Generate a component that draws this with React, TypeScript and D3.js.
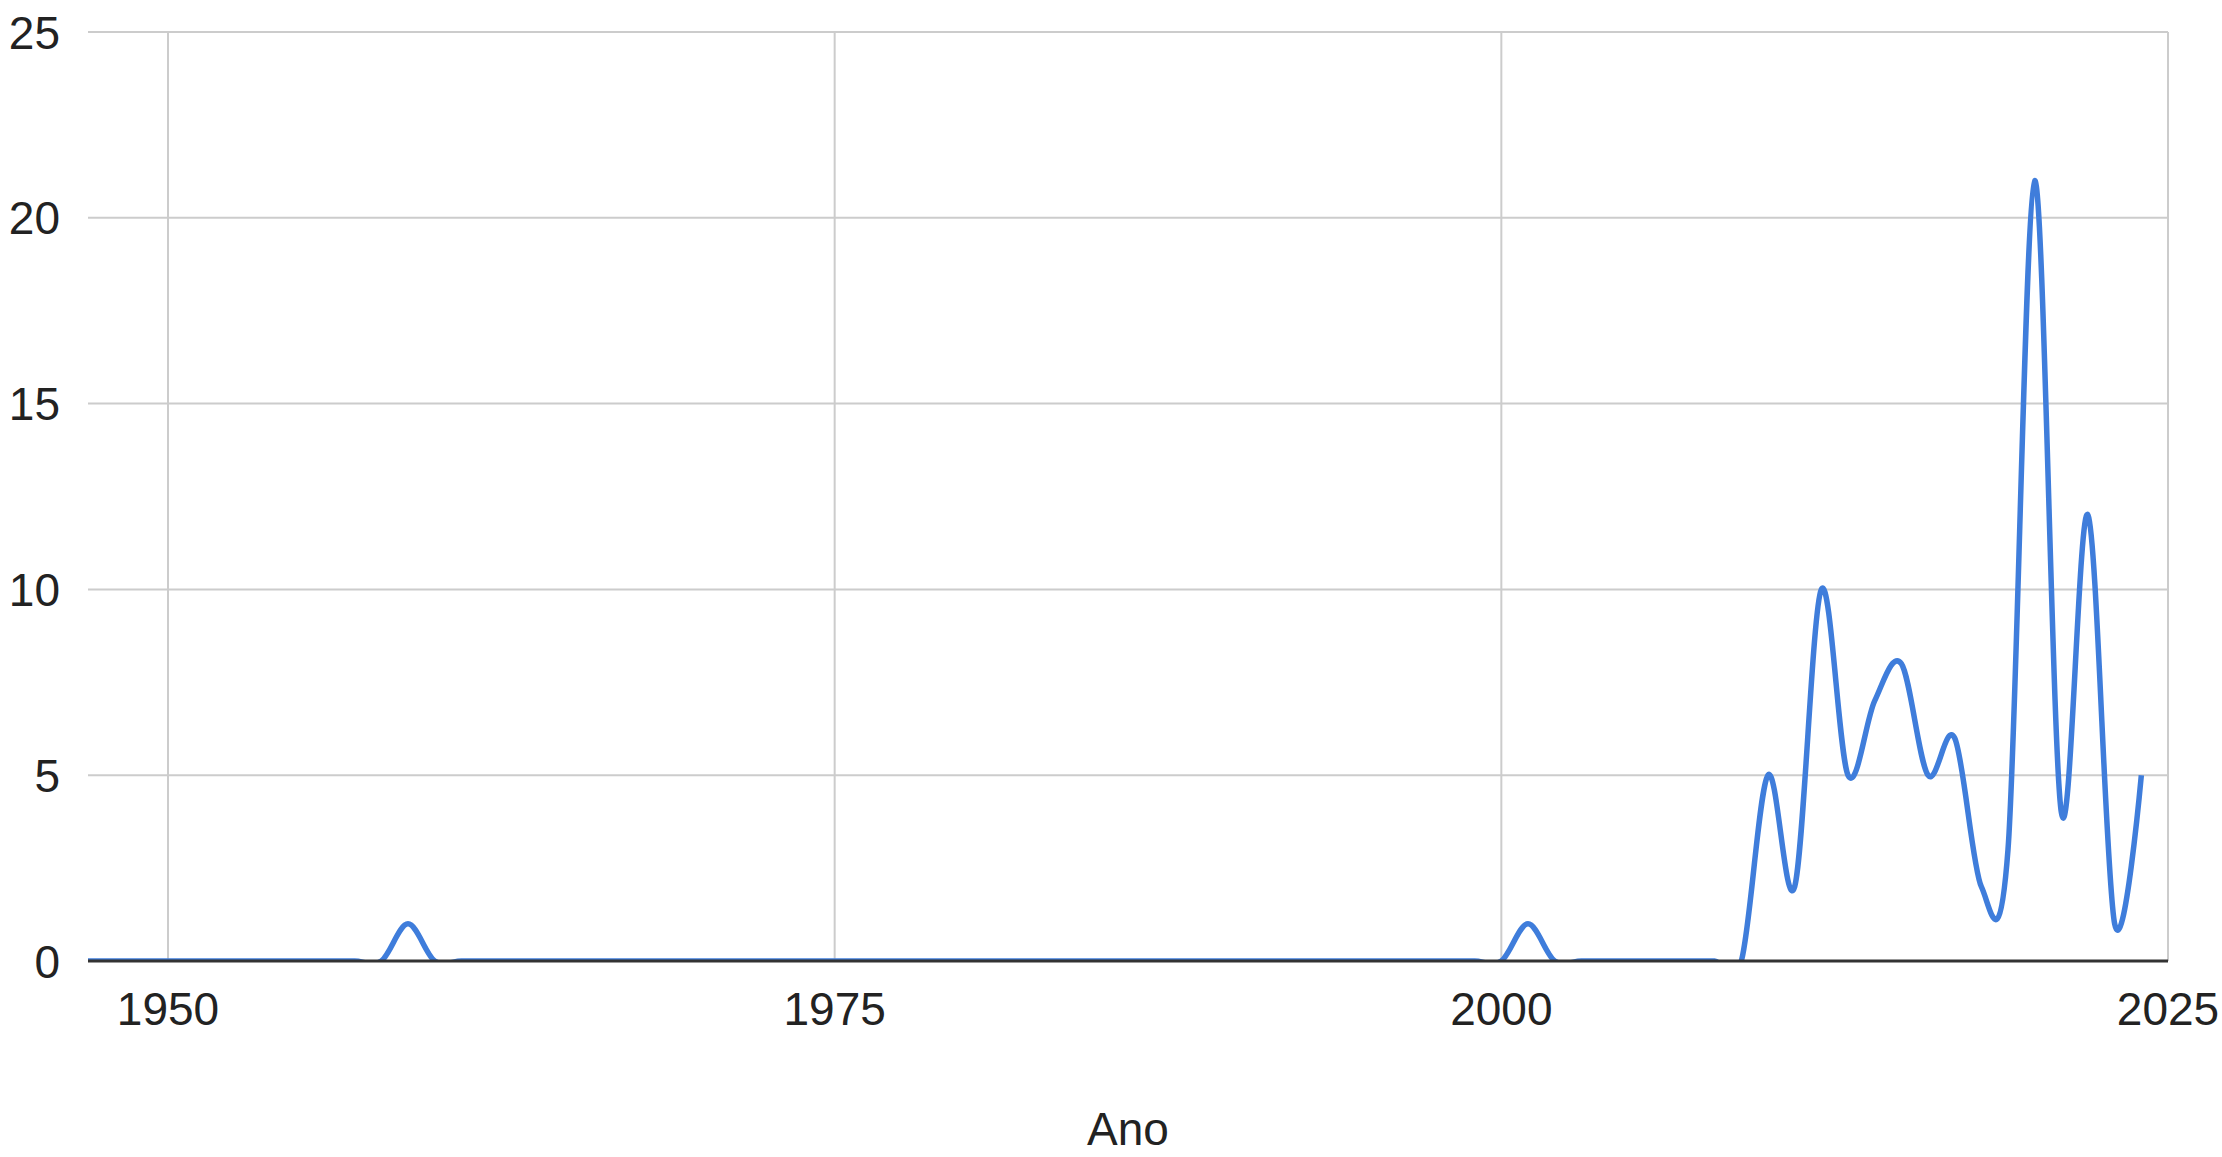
import { useEffect, useRef } from "react"
import * as d3 from "d3"

const years = [
  1947, 1948, 1949, 1950, 1951, 1952, 1953, 1954, 1955, 1956, 1957, 1958, 1959,
  1960, 1961, 1962, 1963, 1964, 1965, 1966, 1967, 1968, 1969, 1970, 1971, 1972,
  1973, 1974, 1975, 1976, 1977, 1978, 1979, 1980, 1981, 1982, 1983, 1984, 1985,
  1986, 1987, 1988, 1989, 1990, 1991, 1992, 1993, 1994, 1995, 1996, 1997, 1998,
  1999, 2000, 2001, 2002, 2003, 2004, 2005, 2006, 2007, 2008, 2009, 2010, 2011,
  2012, 2013, 2014, 2015, 2016, 2017, 2018, 2019, 2020, 2021, 2022, 2023, 2024,
]

const counts = [
  0, 0, 0, 0, 0, 0, 0, 0, 0, 0, 0, 0, 1,
  0, 0, 0, 0, 0, 0, 0, 0, 0, 0, 0, 0, 0,
  0, 0, 0, 0, 0, 0, 0, 0, 0, 0, 0, 0, 0,
  0, 0, 0, 0, 0, 0, 0, 0, 0, 0, 0, 0, 0,
  0, 0, 1, 0, 0, 0, 0, 0, 0, 0, 0, 5, 2,
  10, 5, 7, 8, 5, 6, 2, 3, 21, 4, 12, 1, 5,
]

const xTicks = [1950, 1975, 2000, 2025]
const yTicks = [0, 5, 10, 15, 20, 25]
const xTitle = "Ano"

export default function App() {
  const svgRef = useRef<SVGSVGElement>(null)

  useEffect(() => {
    if (!svgRef.current) return
    const svg = d3.select(svgRef.current)
    svg.selectAll("*").remove()

    const width = 2222
    const height = 1157
    const margin = { top: 32, right: 54, bottom: 196, left: 88 }
    const font = "'Liberation Sans', Arial, sans-serif"

    svg.attr("width", width).attr("height", height)

    const x = d3.scaleLinear()
      .domain([1947, 2025])
      .range([margin.left, width - margin.right])

    const y = d3.scaleLinear()
      .domain([0, 25])
      .range([height - margin.bottom, margin.top])

    // Clip to the plot area
    svg.append("defs").append("clipPath")
      .attr("id", "plot-clip")
      .append("rect")
      .attr("x", margin.left)
      .attr("y", margin.top)
      .attr("width", width - margin.left - margin.right)
      .attr("height", height - margin.top - margin.bottom)

    // Horizontal grid
    svg.append("g")
      .selectAll("line")
      .data(yTicks.filter(d => d !== 0))
      .join("line")
      .attr("x1", margin.left)
      .attr("x2", width - margin.right)
      .attr("y1", d => y(d))
      .attr("y2", d => y(d))
      .attr("stroke", "#cccccc")
      .attr("stroke-width", 2)

    // Vertical grid
    svg.append("g")
      .selectAll("line")
      .data(xTicks)
      .join("line")
      .attr("x1", d => x(d))
      .attr("x2", d => x(d))
      .attr("y1", margin.top)
      .attr("y2", height - margin.bottom)
      .attr("stroke", "#cccccc")
      .attr("stroke-width", 2)

    // Line
    const points = years.map((yr, i) => ({ year: yr, value: counts[i] }))
    const line = d3.line<{ year: number; value: number }>()
      .x(d => x(d.year))
      .y(d => y(d.value))
      .curve(d3.curveCatmullRom.alpha(0))

    svg.append("path")
      .datum(points)
      .attr("clip-path", "url(#plot-clip)")
      .attr("fill", "none")
      .attr("stroke", "#3f7ddb")
      .attr("stroke-width", 5.5)
      .attr("stroke-linejoin", "round")
      .attr("d", line)

    // Baseline
    svg.append("line")
      .attr("x1", margin.left)
      .attr("x2", width - margin.right)
      .attr("y1", y(0))
      .attr("y2", y(0))
      .attr("stroke", "#333333")
      .attr("stroke-width", 3)

    // Y labels
    svg.append("g")
      .selectAll("text")
      .data(yTicks)
      .join("text")
      .attr("x", 60)
      .attr("y", d => y(d))
      .attr("dy", "0.36em")
      .attr("text-anchor", "end")
      .attr("font-family", font)
      .attr("font-size", 46)
      .attr("fill", "#222222")
      .text(d => d)

    // X labels
    svg.append("g")
      .selectAll("text")
      .data(xTicks)
      .join("text")
      .attr("x", d => x(d))
      .attr("y", 1025)
      .attr("text-anchor", "middle")
      .attr("font-family", font)
      .attr("font-size", 46)
      .attr("fill", "#222222")
      .text(d => d)

    // X title
    svg.append("text")
      .attr("x", (margin.left + width - margin.right) / 2)
      .attr("y", 1145)
      .attr("text-anchor", "middle")
      .attr("font-family", font)
      .attr("font-size", 46)
      .attr("fill", "#222222")
      .text(xTitle)
  }, [])

  return (
    <div style={{ position: "absolute", left: 0, top: 0, background: "#ffffff" }}>
      <svg ref={svgRef} style={{ display: "block" }}></svg>
    </div>
  )
}
